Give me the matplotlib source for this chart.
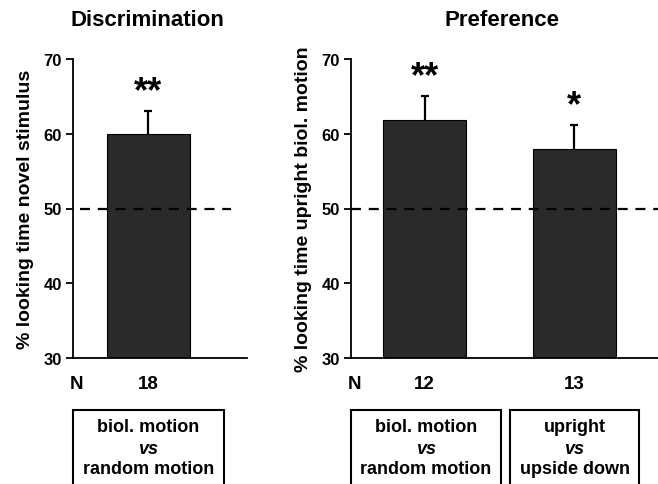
import matplotlib
matplotlib.use("Agg")
import matplotlib.pyplot as plt
from matplotlib.patches import Rectangle
from matplotlib.transforms import blended_transform_factory

plt.rcParams['font.family'] = ['Liberation Sans', 'DejaVu Sans']
plt.rcParams['font.weight'] = 'bold'

# ---- data ----
disc_values = [60.0]
disc_err = [3.1]
disc_n = ["18"]
disc_sig = ["**"]

pref_values = [61.9, 58.0]
pref_err = [3.2, 3.2]
pref_n = ["12", "13"]
pref_sig = ["**", "*"]

box_lines = [["biol. motion", "vs", "random motion"],
             ["biol. motion", "vs", "random motion"],
             ["upright", "vs", "upside down"]]

chance = 50
yticks = [30, 40, 50, 60, 70]

W, H = 658, 485
fig = plt.figure(figsize=(W / 100, H / 100), dpi=100)

def fx(px):
    return px / W

def fy(py):
    return 1 - py / H

bar_color = '#2a2a2a'

axL = fig.add_axes([fx(73), fy(359), fx(247) - fx(73), fy(60) - fy(359)])
axR = fig.add_axes([fx(351), fy(359), fx(658) - fx(351), fy(60) - fy(359)])

posL = [0]
posR = [0, 1.8]

for ax, pos, vals, errs in [(axL, posL, disc_values, disc_err), (axR, posR, pref_values, pref_err)]:
    ax.bar(pos, vals, width=1.0, bottom=0, color=bar_color, edgecolor='black', linewidth=0.8, zorder=2)
    eb = ax.errorbar(pos, vals, yerr=[[0] * len(errs), errs], fmt='none', ecolor='black',
                     elinewidth=1.6, capsize=3, capthick=1.6, zorder=3)
    # keep only the upper cap
    caplines = eb[1]
    if len(caplines) >= 2:
        caplines[0].set_visible(False)
    ax.set_ylim(30, 70)
    ax.set_yticks(yticks)
    ax.set_xticks([])
    for s in ['top', 'right']:
        ax.spines[s].set_visible(False)
    for s in ['left', 'bottom']:
        ax.spines[s].set_linewidth(1.3)
    ax.tick_params(axis='y', direction='out', length=5, width=1.3, labelsize=12, pad=3)
    for t in ax.get_yticklabels():
        t.set_fontweight('bold')

axL.set_xlim(-0.91, 1.19)
axR.set_xlim(-0.886, 2.81)

axL.axhline(chance, xmin=0.04, xmax=0.908, color='black', linestyle=(0, (4.5, 3.5)), linewidth=1.6, zorder=4)
axR.axhline(chance, xmin=0.0, xmax=1.0, color='black', linestyle=(0, (4.5, 3.5)), linewidth=1.6, zorder=4)

axL.set_ylabel("% looking time novel stimulus", fontsize=14, fontweight='bold', labelpad=7)
axR.set_ylabel("% looking time upright biol. motion", fontsize=14, fontweight='bold', labelpad=7)

fig.text(fx(147), fy(20), "Discrimination", ha='center', va='center', fontsize=16, fontweight='bold')
fig.text(fx(502), fy(20), "Preference", ha='center', va='center', fontsize=16, fontweight='bold')

# significance stars
for ax, pos, vals, errs, sig in [(axL, posL, disc_values, disc_err, disc_sig),
                                 (axR, posR, pref_values, pref_err, pref_sig)]:
    for p, v, e, s in zip(pos, vals, errs, sig):
        ax.annotate(s, xy=(p, v + e), xytext=(0, 1), textcoords='offset points',
                    ha='center', va='bottom', fontsize=26, fontweight='bold')

# N row
fig.text(fx(70), fy(385), "N", ha='left', va='center', fontsize=13.5, fontweight='bold')
fig.text(fx(348), fy(385), "N", ha='left', va='center', fontsize=13.5, fontweight='bold')
for ax, pos, ns in [(axL, posL, disc_n), (axR, posR, pref_n)]:
    tr = blended_transform_factory(ax.transData, fig.transFigure)
    for p, n in zip(pos, ns):
        ax.text(p, fy(385), n, transform=tr, ha='center', va='center', fontsize=13.5, fontweight='bold')

# condition boxes
boxes = [(73, 224), (351, 501), (510, 639)]
for (x0, x1), lines in zip(boxes, box_lines):
    rect = Rectangle((fx(x0), fy(490)), fx(x1) - fx(x0), fy(411) - fy(490),
                     transform=fig.transFigure, fill=False, edgecolor='black', linewidth=1.5)
    fig.patches.append(rect)
    cx = fx((x0 + x1) / 2)
    for ly, txt in zip([428, 450, 470], lines):
        style = 'italic' if txt == 'vs' else 'normal'
        fig.text(cx, fy(ly), txt, ha='center', va='center', fontsize=13, fontweight='bold', fontstyle=style)

fig.savefig("out.png", dpi=100)
